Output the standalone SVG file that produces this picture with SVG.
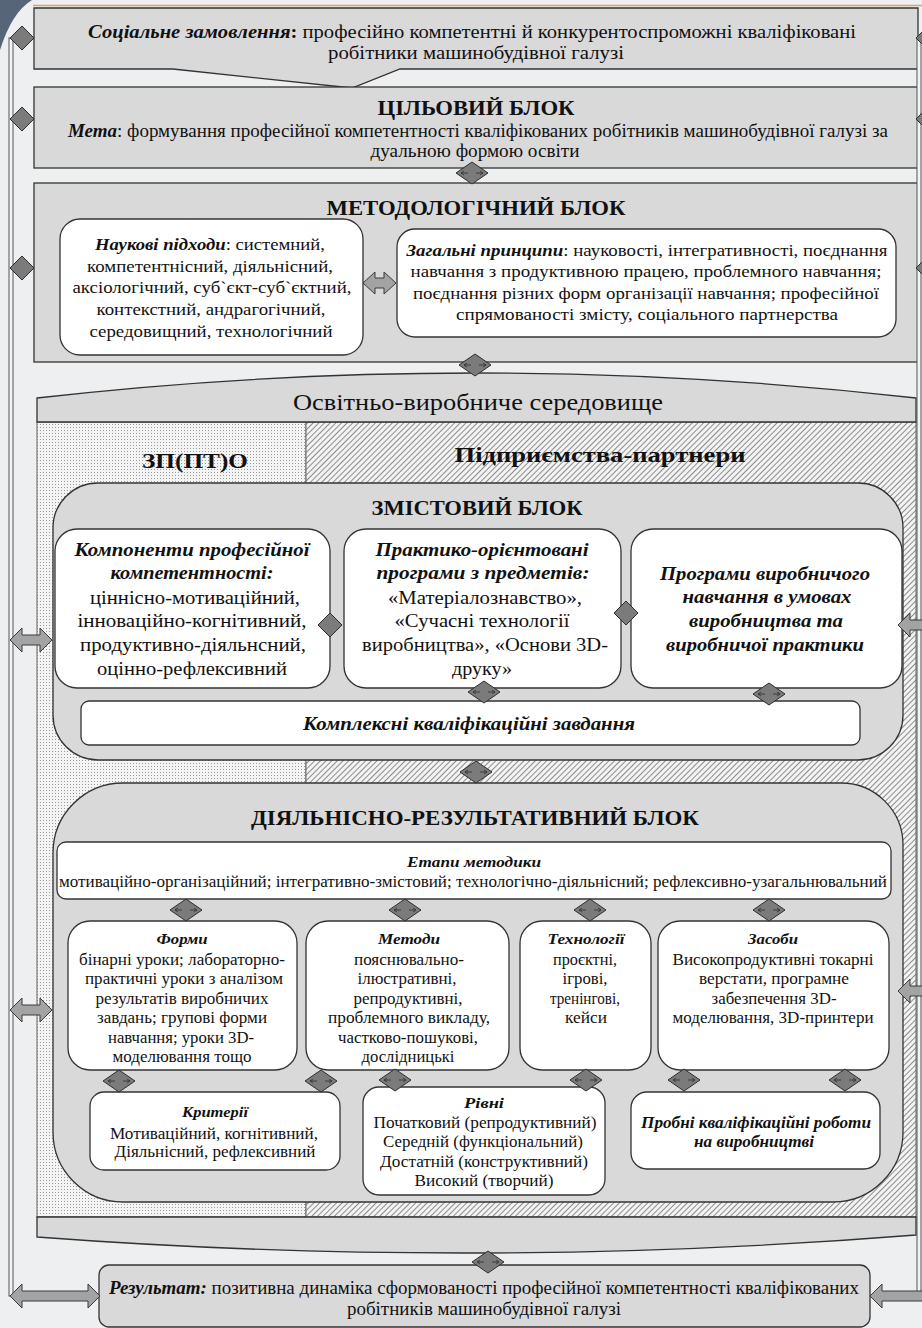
<svg xmlns="http://www.w3.org/2000/svg" width="922" height="1328" viewBox="0 0 922 1328" font-family="'Liberation Serif', 'Times New Roman', serif">
<style>
text{font-family:"Liberation Serif","Times New Roman",serif;fill:#111}
.b{font-weight:bold}
.bi{font-weight:bold;font-style:italic}
.blk{fill:#d9d9d9;stroke:#333;stroke-width:1.3}
.wb{fill:#fff;stroke:#333;stroke-width:1.3}
.dm{fill:#7b7b7b;stroke:#2e2e2e;stroke-width:1}
.dl{fill:none;stroke:#2e2e2e;stroke-width:0.8}
.ar{fill:#a3a3a3;stroke:#3a3a3a;stroke-width:1}
.vl{fill:#f4f4f4;stroke:#555;stroke-width:1}
</style>
<defs>
<path id="d1" class="dm" d="M-12,0 L0,-12 L12,0 L0,12 Z"/>
<g id="d2"><path class="dm" d="M-16,0 L0,-11 L16,0 L0,11 Z"/><path class="dl" d="M-11,0 H-4 M4,0 H11 M-8,-2 L-11,0 L-8,2 M8,-2 L11,0 L8,2"/></g>
<pattern id="dots" width="3" height="3" patternUnits="userSpaceOnUse"><rect width="3" height="3" fill="#f4f4f4"/><rect x="1" y="1" width="1" height="1" fill="#9a9a9a"/></pattern>
<pattern id="hatch" width="4" height="4" patternUnits="userSpaceOnUse" patternTransform="rotate(45)"><rect width="4" height="4" fill="#f3f3f3"/><line x1="0.5" y1="0" x2="0.5" y2="4" stroke="#8c8c8c" stroke-width="1"/></pattern>
</defs>
<rect width="922" height="1328" fill="#edeff1"/>
<path d="M0,0 H32 Q12,12 0,50 Z" fill="#566678"/>
<line x1="33" y1="5.5" x2="922" y2="5.5" stroke="#e2a25a" stroke-width="1.5"/>

<g id="environment">
<rect x="37" y="422" width="269" height="795" fill="url(#dots)" stroke="#666" stroke-width="1"/>
<rect x="306" y="422" width="610" height="795" fill="url(#hatch)" stroke="#666" stroke-width="1"/>
<path class="blk" d="M37,398 Q476,348 916,398 L916,422 L37,422 Z"/>
<path class="blk" d="M37,1217 L916,1217 L916,1235 Q476,1270 37,1237 Z"/>
<text x="478" y="410" font-size="24" text-anchor="middle" textLength="370" lengthAdjust="spacingAndGlyphs">Освітньо-виробниче середовище</text>
<text class="b" x="195" y="468" font-size="22" text-anchor="middle" textLength="106" lengthAdjust="spacingAndGlyphs">ЗП(ПТ)О</text>
<text class="b" x="600" y="462" font-size="22" text-anchor="middle" textLength="291" lengthAdjust="spacingAndGlyphs">Підприємства-партнери</text>
</g>

<g id="social">
<path class="blk" d="M34,8 H918 V69 H400 L352,88 L173,69 H34 Z"/>
<text x="472" y="38" font-size="18" text-anchor="middle" textLength="768" lengthAdjust="spacingAndGlyphs"><tspan class="bi">Соціальне замовлення</tspan><tspan class="b">:</tspan> професійно компетентні й конкурентоспроможні кваліфіковані</text>
<text x="476" y="59" font-size="18" text-anchor="middle" textLength="296" lengthAdjust="spacingAndGlyphs">робітники машинобудівної галузі</text>
</g>

<g id="target">
<rect class="blk" x="34" y="87" width="884" height="81"/>
<text class="b" x="476" y="115" font-size="20" text-anchor="middle" textLength="197" lengthAdjust="spacingAndGlyphs">ЦІЛЬОВИЙ БЛОК</text>
<text x="478" y="137" font-size="18" text-anchor="middle" textLength="820" lengthAdjust="spacingAndGlyphs"><tspan class="bi">Мета</tspan>: формування професійної компетентності кваліфікованих робітників машинобудівної галузі за</text>
<text x="475" y="157" font-size="18" text-anchor="middle" textLength="209" lengthAdjust="spacingAndGlyphs">дуальною формою освіти</text>
</g>

<g id="methodology">
<rect class="blk" x="34" y="183" width="884" height="179"/>
<text class="b" x="476" y="215" font-size="20" text-anchor="middle" textLength="299" lengthAdjust="spacingAndGlyphs">МЕТОДОЛОГІЧНИЙ БЛОК</text>
</g>

<g id="approaches">
<rect class="wb" x="60" y="219" width="303" height="136" rx="20"/>
<g font-size="17.5" text-anchor="middle">
<text x="210" y="250" textLength="230" lengthAdjust="spacingAndGlyphs"><tspan class="bi">Наукові підходи</tspan>: системний,</text>
<text x="210" y="272" textLength="246" lengthAdjust="spacingAndGlyphs">компетентнісний, діяльнісний,</text>
<text x="212" y="293" textLength="279" lengthAdjust="spacingAndGlyphs">аксіологічний, суб`єкт-суб`єктний,</text>
<text x="211" y="315" textLength="229" lengthAdjust="spacingAndGlyphs">контекстний, андрагогічний,</text>
<text x="211" y="337" textLength="243" lengthAdjust="spacingAndGlyphs">середовищний, технологічний</text>
</g>
</g>

<g id="principles">
<rect class="wb" x="397" y="229" width="499" height="108" rx="18"/>
<g font-size="17.5" text-anchor="middle">
<text x="647" y="256" textLength="481" lengthAdjust="spacingAndGlyphs"><tspan class="bi">Загальні принципи</tspan>: науковості, інтегративності, поєднання</text>
<text x="646" y="277" textLength="471" lengthAdjust="spacingAndGlyphs">навчання з продуктивною працею, проблемного навчання;</text>
<text x="646" y="299" textLength="466" lengthAdjust="spacingAndGlyphs">поєднання різних форм організації навчання; професійної</text>
<text x="647" y="320" textLength="382" lengthAdjust="spacingAndGlyphs">спрямованості змісту, соціального партнерства</text>
</g>
</g>

<g id="content">
<rect class="blk" x="53" y="483" width="850" height="277" rx="45"/>
<text class="b" x="477" y="515" font-size="20" text-anchor="middle" textLength="211" lengthAdjust="spacingAndGlyphs">ЗМІСТОВИЙ БЛОК</text>
</g>

<g id="components">
<rect class="wb" x="55" y="529" width="275" height="159" rx="22"/>
<g font-size="19" text-anchor="middle">
<text class="bi" x="192" y="556" textLength="235" lengthAdjust="spacingAndGlyphs">Компоненти професійної</text>
<text class="bi" x="192" y="579" textLength="163" lengthAdjust="spacingAndGlyphs">компетентності:</text>
<text x="195" y="604" textLength="210" lengthAdjust="spacingAndGlyphs">ціннісно-мотиваційний,</text>
<text x="192" y="627" textLength="229" lengthAdjust="spacingAndGlyphs">інноваційно-когнітивний,</text>
<text x="193" y="651" textLength="226" lengthAdjust="spacingAndGlyphs">продуктивно-діяльнсний,</text>
<text x="192" y="675" textLength="190" lengthAdjust="spacingAndGlyphs">оцінно-рефлексивний</text>
</g>
</g>

<g id="programs">
<rect class="wb" x="344" y="529" width="277" height="159" rx="22"/>
<g font-size="19" text-anchor="middle">
<text class="bi" x="482" y="556" textLength="213" lengthAdjust="spacingAndGlyphs">Практико-орієнтовані</text>
<text class="bi" x="483" y="579" textLength="213" lengthAdjust="spacingAndGlyphs">програми з предметів:</text>
<text x="485" y="604" textLength="194" lengthAdjust="spacingAndGlyphs">«Матеріалознавство»,</text>
<text x="482" y="627" textLength="175" lengthAdjust="spacingAndGlyphs">«Сучасні технології</text>
<text x="485" y="651" textLength="246" lengthAdjust="spacingAndGlyphs">виробництва», «Основи 3D-</text>
<text x="482" y="675" textLength="60" lengthAdjust="spacingAndGlyphs">друку»</text>
</g>
</g>

<g id="production">
<rect class="wb" x="631" y="529" width="271" height="159" rx="22"/>
<g font-size="19" text-anchor="middle">
<text class="bi" x="765" y="580" textLength="210" lengthAdjust="spacingAndGlyphs">Програми виробничого</text>
<text class="bi" x="767" y="603" textLength="169" lengthAdjust="spacingAndGlyphs">навчання в умовах</text>
<text class="bi" x="766" y="627" textLength="154" lengthAdjust="spacingAndGlyphs">виробництва та</text>
<text class="bi" x="765" y="651" textLength="198" lengthAdjust="spacingAndGlyphs">виробничої практики</text>
</g>
</g>

<g id="complex-tasks">
<rect class="wb" x="81" y="701" width="779" height="44" rx="8"/>
<text class="bi" x="469" y="730" font-size="19" text-anchor="middle" textLength="332" lengthAdjust="spacingAndGlyphs">Комплексні кваліфікаційні завдання</text>
</g>

<g id="activity">
<path class="blk" d="M123,783 H841 A62,62 0 0 1 903,845 V1132 A70,70 0 0 1 833,1202 H123 A70,70 0 0 1 53,1132 V853 A70,70 0 0 1 123,783 Z"/>
<text class="b" x="475" y="825" font-size="20" text-anchor="middle" textLength="448" lengthAdjust="spacingAndGlyphs">ДІЯЛЬНІСНО-РЕЗУЛЬТАТИВНИЙ БЛОК</text>
</g>

<g id="stages">
<rect class="wb" x="57" y="842" width="834" height="57" rx="9"/>
<text class="bi" x="474" y="867" font-size="15" text-anchor="middle" textLength="134" lengthAdjust="spacingAndGlyphs">Етапи методики</text>
<text x="473" y="887" font-size="16" text-anchor="middle" textLength="828" lengthAdjust="spacingAndGlyphs">мотиваційно-організаційний; інтегративно-змістовий; технологічно-діяльнісний; рефлексивно-узагальнювальний</text>
</g>

<g id="forms">
<rect class="wb" x="68" y="921" width="229" height="149" rx="22"/>
<g font-size="16" text-anchor="middle">
<text class="bi" x="182" y="944" font-size="15" textLength="51" lengthAdjust="spacingAndGlyphs">Форми</text>
<text x="182" y="965" textLength="206" lengthAdjust="spacingAndGlyphs">бінарні уроки; лабораторно-</text>
<text x="184" y="984" textLength="198" lengthAdjust="spacingAndGlyphs">практичні уроки з аналізом</text>
<text x="182" y="1004" textLength="173" lengthAdjust="spacingAndGlyphs">результатів виробничих</text>
<text x="182" y="1023" textLength="170" lengthAdjust="spacingAndGlyphs">завдань; групові форми</text>
<text x="181" y="1043" textLength="146" lengthAdjust="spacingAndGlyphs">навчання; уроки 3D-</text>
<text x="182" y="1062" textLength="139" lengthAdjust="spacingAndGlyphs">моделювання тощо</text>
</g>
</g>

<g id="methods">
<rect class="wb" x="306" y="921" width="203" height="149" rx="22"/>
<g font-size="16" text-anchor="middle">
<text class="bi" x="409" y="944" font-size="15" textLength="62" lengthAdjust="spacingAndGlyphs">Методи</text>
<text x="409" y="965" textLength="110" lengthAdjust="spacingAndGlyphs">пояснювально-</text>
<text x="407" y="984" textLength="99" lengthAdjust="spacingAndGlyphs">ілюстративні,</text>
<text x="408" y="1004" textLength="109" lengthAdjust="spacingAndGlyphs">репродуктивні,</text>
<text x="409" y="1023" textLength="162" lengthAdjust="spacingAndGlyphs">проблемного викладу,</text>
<text x="408" y="1043" textLength="140" lengthAdjust="spacingAndGlyphs">частково-пошукові,</text>
<text x="408" y="1062" textLength="93" lengthAdjust="spacingAndGlyphs">дослідницькі</text>
</g>
</g>

<g id="technologies">
<rect class="wb" x="520" y="921" width="131" height="149" rx="22"/>
<g font-size="16" text-anchor="middle">
<text class="bi" x="586" y="944" font-size="15" textLength="77" lengthAdjust="spacingAndGlyphs">Технології</text>
<text x="585" y="965" textLength="64" lengthAdjust="spacingAndGlyphs">проєктні,</text>
<text x="585" y="984" textLength="45" lengthAdjust="spacingAndGlyphs">ігрові,</text>
<text x="585" y="1004" textLength="70" lengthAdjust="spacingAndGlyphs">тренінгові,</text>
<text x="586" y="1023" textLength="42" lengthAdjust="spacingAndGlyphs">кейси</text>
</g>
</g>

<g id="means">
<rect class="wb" x="658" y="921" width="231" height="149" rx="22"/>
<g font-size="16" text-anchor="middle">
<text class="bi" x="773" y="944" font-size="15" textLength="50" lengthAdjust="spacingAndGlyphs">Засоби</text>
<text x="773" y="965" textLength="201" lengthAdjust="spacingAndGlyphs">Високопродуктивні токарні</text>
<text x="774" y="984" textLength="150" lengthAdjust="spacingAndGlyphs">верстати, програмне</text>
<text x="774" y="1004" textLength="125" lengthAdjust="spacingAndGlyphs">забезпечення 3D-</text>
<text x="773" y="1023" textLength="201" lengthAdjust="spacingAndGlyphs">моделювання, 3D-принтери</text>
</g>
</g>

<g id="criteria">
<rect class="wb" x="90" y="1092" width="250" height="78" rx="14"/>
<g font-size="16" text-anchor="middle">
<text class="bi" x="215" y="1117" font-size="15" textLength="66" lengthAdjust="spacingAndGlyphs">Критерії</text>
<text x="214" y="1139" textLength="208" lengthAdjust="spacingAndGlyphs">Мотиваційний, когнітивний,</text>
<text x="215" y="1157" textLength="201" lengthAdjust="spacingAndGlyphs">Діяльнісний, рефлексивний</text>
</g>
</g>

<g id="levels">
<rect class="wb" x="363" y="1087" width="242" height="108" rx="16"/>
<g font-size="16" text-anchor="middle">
<text class="bi" x="484" y="1108" font-size="15" textLength="40" lengthAdjust="spacingAndGlyphs">Рівні</text>
<text x="485" y="1128" textLength="223" lengthAdjust="spacingAndGlyphs">Початковий (репродуктивний)</text>
<text x="483" y="1147" textLength="200" lengthAdjust="spacingAndGlyphs">Середній (функціональний)</text>
<text x="484" y="1167" textLength="208" lengthAdjust="spacingAndGlyphs">Достатній (конструктивний)</text>
<text x="484" y="1186" textLength="139" lengthAdjust="spacingAndGlyphs">Високий (творчий)</text>
</g>
</g>

<g id="trial-works">
<rect class="wb" x="631" y="1092" width="249" height="77" rx="16"/>
<g font-size="16" text-anchor="middle">
<text class="bi" x="756" y="1128" textLength="230" lengthAdjust="spacingAndGlyphs">Пробні кваліфікаційні роботи</text>
<text class="bi" x="754" y="1147" textLength="120" lengthAdjust="spacingAndGlyphs">на виробництві</text>
</g>
</g>

<g id="result">
<rect class="blk" x="99" y="1265" width="771" height="62" rx="10"/>
<text x="484" y="1294" font-size="18" text-anchor="middle" textLength="750" lengthAdjust="spacingAndGlyphs"><tspan class="bi">Результат:</tspan> позитивна динаміка сформованості професійної компетентності кваліфікованих</text>
<text x="484" y="1315" font-size="18" text-anchor="middle" textLength="274" lengthAdjust="spacingAndGlyphs">робітників машинобудівної галузі</text>
</g>

<g id="connectors">
<rect class="vl" x="9" y="38" width="4" height="1258"/>
<rect class="vl" x="917" y="38" width="4" height="1258"/>
<use href="#d1" x="22" y="38"/>
<use href="#d1" x="22" y="119"/>
<use href="#d1" x="22" y="268"/>
<use href="#d1" x="928" y="38"/>
<use href="#d1" x="928" y="119"/>
<use href="#d1" x="928" y="268"/>
<use href="#d2" x="472" y="173"/>
<use href="#d2" x="475" y="365"/>
<use href="#d2" x="476" y="772"/>
<use href="#d2" x="488" y="1262"/>
<use href="#d1" x="330" y="625"/>
<use href="#d1" x="626" y="613"/>
<use href="#d2" x="484" y="692"/>
<use href="#d2" x="769" y="694"/>
<use href="#d2" x="186" y="910"/>
<use href="#d2" x="405" y="910"/>
<use href="#d2" x="590" y="910"/>
<use href="#d2" x="769" y="910"/>
<use href="#d2" x="119" y="1081"/>
<use href="#d2" x="321" y="1081"/>
<use href="#d2" x="395" y="1080"/>
<use href="#d2" x="586" y="1080"/>
<use href="#d2" x="684" y="1080"/>
<use href="#d2" x="845" y="1080"/>
<path class="ar" d="M363,283 L375,272 L375,278 L384,278 L384,272 L396,283 L384,294 L384,288 L375,288 L375,294 Z"/>
<path class="ar" d="M10,640 L22,628 L22,635 L40,635 L40,628 L52,640 L40,652 L40,645 L22,645 L22,652 Z"/>
<path class="ar" d="M10,1010 L22,998 L22,1005 L40,1005 L40,998 L52,1010 L40,1022 L40,1015 L22,1015 L22,1022 Z"/>
<path class="ar" d="M10,1296 L22,1284 L22,1291 L88,1291 L88,1284 L100,1296 L88,1308 L88,1301 L22,1301 L22,1308 Z"/>
<path class="ar" d="M898,625 L910,613 L910,620 L934,620 L934,613 L946,625 L934,637 L934,630 L910,630 L910,637 Z"/>
<path class="ar" d="M898,991 L910,979 L910,986 L934,986 L934,979 L946,991 L934,1003 L934,996 L910,996 L910,1003 Z"/>
<path class="ar" d="M870,1296 L882,1284 L882,1291 L934,1291 L934,1284 L946,1296 L934,1308 L934,1301 L882,1301 L882,1308 Z"/>
</g>
</svg>
